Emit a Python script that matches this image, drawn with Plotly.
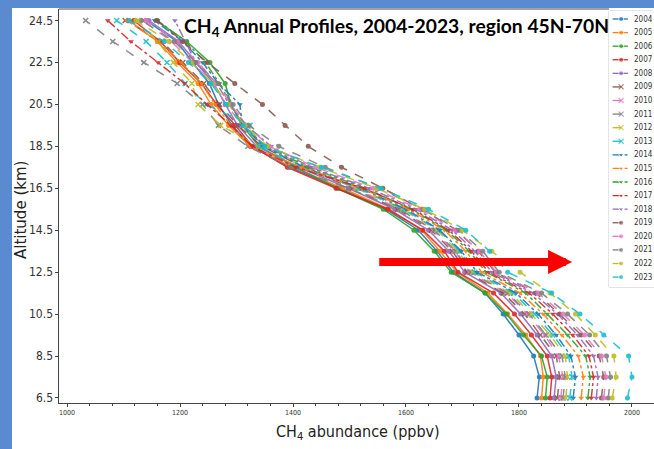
import plotly.graph_objects as go

altitude_km = [6.5, 7.5, 8.5, 9.5, 10.5, 11.5, 12.5, 13.5, 14.5, 15.5,
               16.5, 17.5, 18.5, 19.5, 20.5, 21.5, 22.5, 23.5, 24.5]

years = ["2004", "2005", "2006", "2007", "2008", "2009", "2010", "2011", "2012", "2013",
         "2014", "2015", "2016", "2017", "2018", "2019", "2020", "2021", "2022", "2023"]

ch4_2004 = [1832, 1836, 1826, 1800, 1772, 1740, 1684, 1655, 1622, 1565, 1482, 1395, 1326, 1292, 1268, 1252, 1222, 1195, 1140]
ch4_2005 = [1840, 1843, 1838, 1812, 1780, 1745, 1690, 1660, 1628, 1570, 1488, 1400, 1324, 1286, 1255, 1232, 1195, 1160, 1110]
ch4_2006 = [1847, 1850, 1840, 1808, 1778, 1740, 1680, 1650, 1614, 1560, 1478, 1405, 1340, 1310, 1290, 1280, 1253, 1212, 1158]
ch4_2007 = [1855, 1858, 1850, 1822, 1792, 1755, 1692, 1668, 1630, 1568, 1476, 1390, 1328, 1298, 1265, 1238, 1200, 1165, 1118]
ch4_2008 = [1862, 1866, 1858, 1832, 1803, 1768, 1704, 1676, 1640, 1580, 1498, 1410, 1336, 1302, 1280, 1260, 1228, 1198, 1145]
ch4_2009 = [1868, 1872, 1866, 1838, 1810, 1772, 1708, 1682, 1645, 1585, 1505, 1418, 1345, 1302, 1270, 1242, 1205, 1168, 1103]
ch4_2010 = [1874, 1878, 1870, 1845, 1815, 1778, 1712, 1686, 1648, 1590, 1510, 1425, 1350, 1310, 1282, 1258, 1222, 1185, 1135]
ch4_2011 = [1878, 1882, 1876, 1848, 1818, 1780, 1714, 1688, 1650, 1588, 1498, 1395, 1320, 1268, 1240, 1195, 1136, 1081, 1033]
ch4_2012 = [1883, 1886, 1882, 1855, 1822, 1785, 1718, 1692, 1655, 1594, 1512, 1422, 1338, 1272, 1232, 1221, 1188, 1161, 1125]
ch4_2013 = [1890, 1894, 1888, 1860, 1828, 1790, 1722, 1695, 1658, 1596, 1515, 1412, 1340, 1324, 1246, 1209, 1177, 1140, 1088]
ch4_2014 = [1896, 1900, 1892, 1866, 1834, 1795, 1726, 1698, 1660, 1600, 1520, 1420, 1348, 1310, 1306, 1268, 1240, 1205, 1155]
ch4_2015 = [1910, 1914, 1905, 1876, 1843, 1802, 1734, 1706, 1668, 1605, 1522, 1415, 1324, 1290, 1262, 1238, 1202, 1162, 1106]
ch4_2016 = [1922, 1926, 1918, 1886, 1850, 1812, 1742, 1712, 1672, 1610, 1528, 1428, 1352, 1312, 1290, 1270, 1245, 1210, 1160]
ch4_2017 = [1928, 1932, 1924, 1895, 1860, 1818, 1746, 1716, 1676, 1612, 1525, 1405, 1328, 1290, 1248, 1208, 1161, 1113, 1072]
ch4_2018 = [1937, 1940, 1932, 1904, 1868, 1825, 1752, 1722, 1682, 1618, 1535, 1432, 1361, 1318, 1287, 1265, 1228, 1209, 1191]
ch4_2019 = [1946, 1950, 1942, 1910, 1872, 1830, 1758, 1728, 1690, 1628, 1559, 1486, 1427, 1386, 1346, 1297, 1248, 1205, 1160]
ch4_2020 = [1950, 1954, 1946, 1916, 1878, 1834, 1760, 1730, 1688, 1624, 1542, 1440, 1358, 1318, 1290, 1265, 1232, 1195, 1140]
ch4_2021 = [1958, 1962, 1955, 1925, 1886, 1840, 1765, 1736, 1694, 1630, 1552, 1457, 1375, 1322, 1294, 1268, 1228, 1190, 1132]
ch4_2022 = [1965, 1972, 1968, 1935, 1900, 1855, 1802, 1752, 1700, 1633, 1548, 1448, 1355, 1315, 1285, 1258, 1220, 1180, 1122]
ch4_2023 = [1992, 2000, 1994, 1950, 1908, 1858, 1780, 1748, 1706, 1640, 1556, 1450, 1350, 1312, 1282, 1255, 1215, 1172, 1110]

profiles = [ch4_2004, ch4_2005, ch4_2006, ch4_2007, ch4_2008, ch4_2009, ch4_2010,
            ch4_2011, ch4_2012, ch4_2013, ch4_2014, ch4_2015, ch4_2016, ch4_2017,
            ch4_2018, ch4_2019, ch4_2020, ch4_2021, ch4_2022, ch4_2023]

x_ticks = [1000, 1200, 1400, 1600, 1800, 2000]
y_ticks = [6.5, 8.5, 10.5, 12.5, 14.5, 16.5, 18.5, 20.5, 22.5, 24.5]

tab10 = ["#1f77b4", "#ff7f0e", "#2ca02c", "#d62728", "#9467bd",
         "#8c564b", "#e377c2", "#7f7f7f", "#bcbd22", "#17becf"]
group_dash = ["solid", "dash", "dashdot", "dash"]
group_symbol = ["circle", "x-thin", "triangle-down", "circle"]

fig = go.Figure()

for i, (yr, vals) in enumerate(zip(years, profiles)):
    g = i // 5
    col = tab10[i % 10]
    sym = group_symbol[g]
    marker = dict(size=5, color=col, symbol=sym)
    if sym == "x-thin":
        marker["line"] = dict(color=col, width=1.5)
    fig.add_trace(go.Scatter(
        x=vals, y=altitude_km, mode="lines+markers", name=yr,
        line=dict(color=col, width=1.5, dash=group_dash[g]),
        marker=marker, opacity=0.9, showlegend=False, xaxis="x", yaxis="y"))

# compact legend drawn in a small helper axis
for i, yr in enumerate(years):
    g = i // 5
    col = tab10[i % 10]
    sym = group_symbol[g]
    marker = dict(size=[0, 5, 0], color=col, symbol=sym)
    if sym == "x-thin":
        marker["line"] = dict(color=col, width=1.2)
    fig.add_trace(go.Scatter(
        x=[0.08, 0.27, 0.42], y=[i, i, i], mode="lines+markers",
        line=dict(color=col, width=1.3, dash=group_dash[g]),
        marker=marker, showlegend=False, hoverinfo="skip",
        xaxis="x2", yaxis="y2"))
    fig.add_annotation(x=0.52, y=i, xref="x2", yref="y2", text=yr,
                       showarrow=False, xanchor="left", yanchor="middle",
                       font=dict(family="DejaVu Sans Condensed", size=8, color="#333333"))

W, H = 654, 449
ml, mr, mt, mb = 59, 0, 9, 46
pw, ph = W - ml - mr, H - mt - mb

def px(x):
    return (x - ml) / pw

def py(y):
    return (H - mb - y) / ph

shapes = [
    dict(type="rect", xref="paper", yref="paper", x0=px(12), x1=px(660),
         y0=py(460), y1=py(8), fillcolor="white", line=dict(width=0), layer="below"),
    dict(type="rect", xref="x2 domain", yref="y2 domain", x0=0, x1=1.2, y0=0, y1=1,
         fillcolor="white", line=dict(color="#c8c8c8", width=1), layer="below"),
]

annotations = [
    dict(x=px(396), y=py(27), xref="paper", yref="paper",
         text="<b>CH<sub>4</sub> Annual Profiles, 2004-2023, region 45N-70N</b>",
         showarrow=False, xanchor="center", yanchor="middle",
         font=dict(family="Lato", size=19.3, color="black")),
    dict(x=px(358), y=py(432), xref="paper", yref="paper",
         text="CH<sub>4</sub> abundance (ppbv)", showarrow=False,
         xanchor="center", yanchor="middle",
         font=dict(family="DejaVu Sans Condensed", size=16, color="#222222")),
    dict(x=px(21), y=py(210), xref="paper", yref="paper",
         text="Altitude (km)", textangle=-90, showarrow=False,
         xanchor="center", yanchor="middle",
         font=dict(family="DejaVu Sans", size=15, color="#222222")),
    dict(x=1894, y=12.99, ax=1550, ay=12.99, xref="x", yref="y", axref="x", ayref="y",
         text="", showarrow=True, arrowhead=2, arrowsize=0.6, arrowwidth=8,
         arrowcolor="#ff0000", standoff=0),
]
for v in y_ticks:
    annotations.append(dict(x=px(55), y=v, xref="paper", yref="y", text=f"{v}",
                            showarrow=False, xanchor="right", yanchor="middle",
                            font=dict(family="DejaVu Sans Condensed", size=12, color="#333")))

fig.update_layout(
    width=W, height=H,
    margin=dict(l=ml, r=mr, t=mt, b=mb),
    paper_bgcolor="#5a8bd0", plot_bgcolor="white",
    showlegend=False,
    shapes=shapes,
    annotations=list(fig.layout.annotations) + annotations,
    xaxis=dict(domain=[0, 1], range=[985.8, 2039], tickvals=x_ticks,
               ticks="outside", ticklen=3, tickwidth=1, tickcolor="#444",
               showline=True, linecolor="#444", linewidth=1, mirror=False,
               showgrid=False, zeroline=False,
               tickfont=dict(family="DejaVu Sans Condensed", size=7, color="#333"),
               minor=dict(dtick=40, tick0=1000, ticks="outside", ticklen=2, tickcolor="#444")),
    yaxis=dict(domain=[0, 1], range=[6.26, 25.05], tickvals=y_ticks,
               showticklabels=False,
               ticks="outside", ticklen=3, tickwidth=1, tickcolor="#444",
               showline=True, linecolor="#444", linewidth=1, mirror=False,
               showgrid=False, zeroline=False),
    xaxis2=dict(domain=[px(609), 1], range=[0, 1], visible=False, fixedrange=True),
    yaxis2=dict(domain=[py(287), py(11)], range=[19.73, -0.59], visible=False,
                fixedrange=True, anchor="x2"),
)
fig.add_shape(type="line", xref="paper", yref="paper", x0=0, x1=px(609), y0=1, y1=1,
              line=dict(color="#444", width=1))

fig.write_html("out.html", config={"displayModeBar": False},
               post_script="document.body.style.margin='0';document.body.style.padding='0';"
                           "document.documentElement.style.overflow='hidden';")
